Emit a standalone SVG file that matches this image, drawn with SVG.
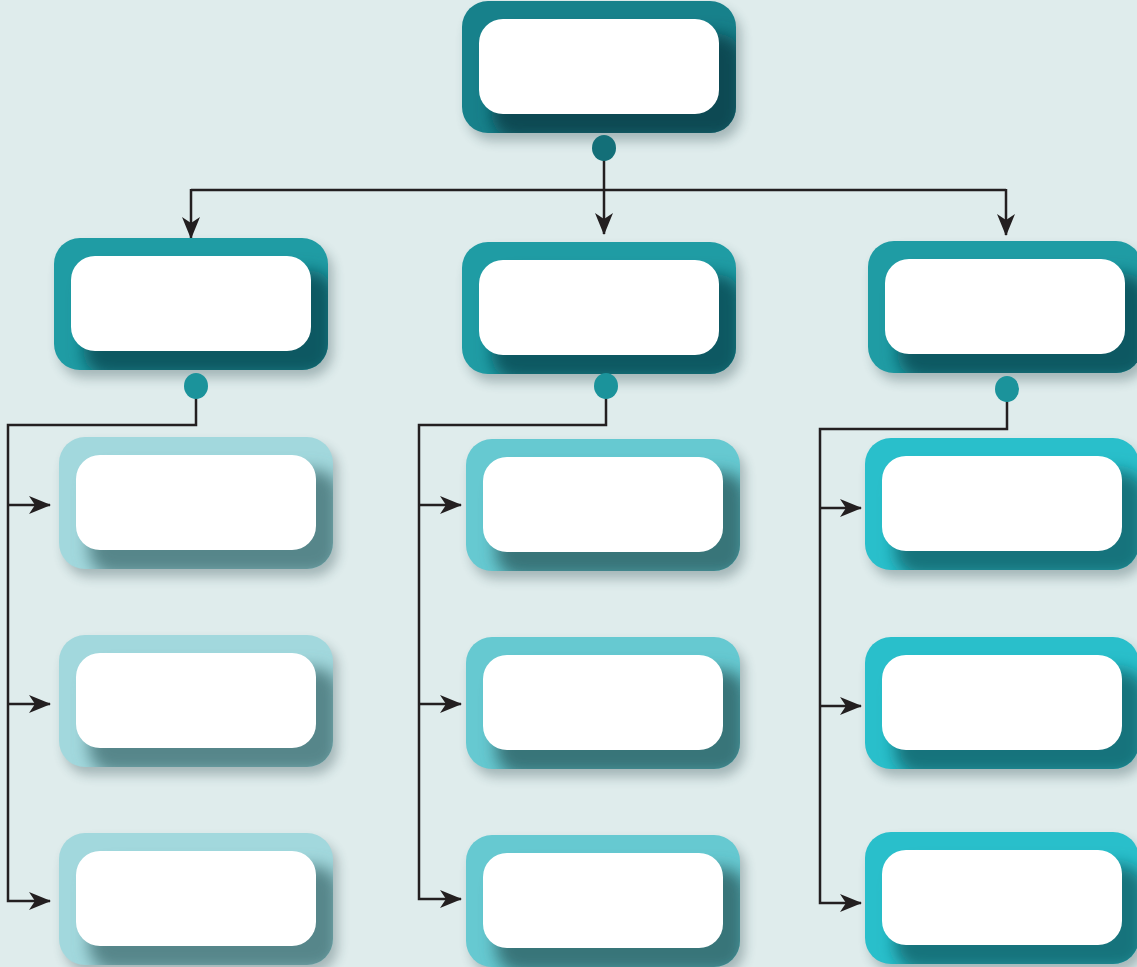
<svg xmlns="http://www.w3.org/2000/svg" width="1137" height="967" viewBox="0 0 1137 967">
  <defs>
    <style>
      .bg{fill:#dfecec}
      .drop{fill:#1d3b40;opacity:.3;filter:url(#soft)}
      .outer{fill:var(--base)}
      .inset{fill:var(--shade);filter:url(#blur)}
      .face{fill:#ffffff}
      .top{--base:#17818b;--shade:#0d4a53}
      .lvl{--base:#1f9ca4;--shade:#115962}
      .pale{--base:#a2d8dd;--shade:#56868a}
      .mid{--base:#66c9d1;--shade:#387479}
      .vivid{--base:#29bfcb;--shade:#16737b}
      .wire{fill:none;stroke:#231f20;stroke-width:2.5}
      .arrow{marker-end:url(#head)}
      .dot-top{fill:#136f78}
      .dot{fill:#1b939b}
    </style>
    <filter id="blur" x="-30%" y="-30%" width="160%" height="160%">
      <feGaussianBlur stdDeviation="8"/>
    </filter>
    <filter id="soft" x="-30%" y="-30%" width="160%" height="160%">
      <feGaussianBlur stdDeviation="6"/>
    </filter>
    <clipPath id="outerClip">
      <rect width="274" height="132" rx="26"/>
    </clipPath>
    <marker id="head" viewBox="0 0 22 18" refX="21" refY="9" markerWidth="22" markerHeight="18" markerUnits="userSpaceOnUse" orient="auto">
      <path d="M0,0 L22,9 L0,18 L6,9 Z" fill="#231f20"/>
    </marker>
    <g id="box">
      <rect class="drop" x="5" y="8" width="274" height="132" rx="26"/>
      <rect class="outer" width="274" height="132" rx="26"/>
      <g clip-path="url(#outerClip)">
        <rect class="inset" x="30" y="33" width="250" height="105" rx="24"/>
      </g>
      <rect class="face" x="17" y="18" width="240" height="95" rx="24"/>
    </g>
  </defs>

  <rect class="bg" width="1137" height="967"/>

  <!-- connectors -->
  <g id="connectors">
    <path class="wire" d="M191,190 H1006"/>
    <path class="wire arrow" d="M604,150 V234"/>
    <path class="wire arrow" d="M191,189 V238"/>
    <path class="wire arrow" d="M1006,189 V235"/>

    <path class="wire arrow" d="M196,390 V425 H8 V901 H50"/>
    <path class="wire arrow" d="M8,505 H50"/>
    <path class="wire arrow" d="M8,704 H50"/>

    <path class="wire arrow" d="M606,390 V425 H419 V899 H461"/>
    <path class="wire arrow" d="M419,505 H461"/>
    <path class="wire arrow" d="M419,704 H461"/>

    <path class="wire arrow" d="M1007,393 V429 H820 V903 H861"/>
    <path class="wire arrow" d="M820,508 H861"/>
    <path class="wire arrow" d="M820,706 H861"/>
  </g>

  <!-- root -->
  <g id="root" class="top" transform="translate(462,1)"><use href="#box"/></g>
  <ellipse id="root-port" class="dot-top" cx="604" cy="148" rx="12" ry="13"/>

  <!-- second level -->
  <g id="branch-a" class="lvl" transform="translate(54,238)"><use href="#box"/></g>
  <g id="branch-b" class="lvl" transform="translate(462,242)"><use href="#box"/></g>
  <g id="branch-c" class="lvl" transform="translate(868,241)"><use href="#box"/></g>
  <ellipse id="port-a" class="dot" cx="196" cy="386" rx="12" ry="13"/>
  <ellipse id="port-b" class="dot" cx="606" cy="386" rx="12" ry="13"/>
  <ellipse id="port-c" class="dot" cx="1007" cy="389" rx="12" ry="13"/>

  <!-- leaves, column a -->
  <g id="leaf-a1" class="pale" transform="translate(59,437)"><use href="#box"/></g>
  <g id="leaf-a2" class="pale" transform="translate(59,635)"><use href="#box"/></g>
  <g id="leaf-a3" class="pale" transform="translate(59,833)"><use href="#box"/></g>

  <!-- leaves, column b -->
  <g id="leaf-b1" class="mid" transform="translate(466,439)"><use href="#box"/></g>
  <g id="leaf-b2" class="mid" transform="translate(466,637)"><use href="#box"/></g>
  <g id="leaf-b3" class="mid" transform="translate(466,835)"><use href="#box"/></g>

  <!-- leaves, column c -->
  <g id="leaf-c1" class="vivid" transform="translate(865,438)"><use href="#box"/></g>
  <g id="leaf-c2" class="vivid" transform="translate(865,637)"><use href="#box"/></g>
  <g id="leaf-c3" class="vivid" transform="translate(865,832)"><use href="#box"/></g>
</svg>
